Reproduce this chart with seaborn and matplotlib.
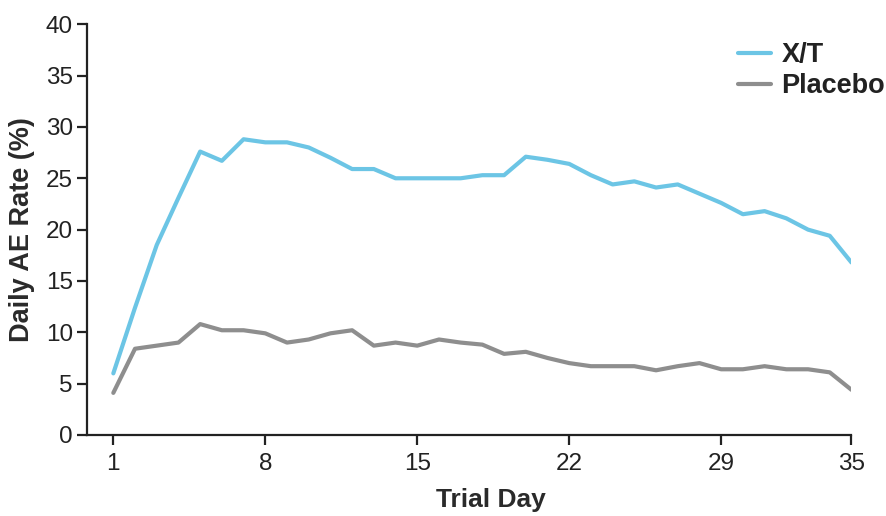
import numpy as np
import pandas as pd
import matplotlib
matplotlib.use("Agg")
import matplotlib.pyplot as plt
import seaborn as sns

# ------------------------------------
# Data
# ------------------------------------
days = list(range(1, 36))

xt_rate = [6.0, 12.4, 18.5, 23.1, 27.6, 26.7, 28.8, 28.5, 28.5, 28.0,
           27.0, 25.9, 25.9, 25.0, 25.0, 25.0, 25.0, 25.3, 25.3, 27.1,
           26.8, 26.4, 25.3, 24.4, 24.7, 24.1, 24.4, 23.5, 22.6, 21.5,
           21.8, 21.1, 20.0, 19.4, 16.8]

placebo_rate = [4.1, 8.4, 8.7, 9.0, 10.8, 10.2, 10.2, 9.9, 9.0, 9.3,
                9.9, 10.2, 8.7, 9.0, 8.7, 9.3, 9.0, 8.8, 7.9, 8.1,
                7.5, 7.0, 6.7, 6.7, 6.7, 6.3, 6.7, 7.0, 6.4, 6.4,
                6.7, 6.4, 6.4, 6.1, 4.4]

groups = ["X/T", "Placebo"]
group_colors = {"X/T": "#6cc5e5", "Placebo": "#8e8e8e"}

x_ticks = [1, 8, 15, 22, 29, 35]
y_ticks = [0, 5, 10, 15, 20, 25, 30, 35, 40]

df = pd.DataFrame({
    "Trial Day": days * 2,
    "Rate": xt_rate + placebo_rate,
    "Group": [groups[0]] * len(days) + [groups[1]] * len(days),
})

# ------------------------------------
# Plot
# ------------------------------------
sns.set_style("white")
plt.rcParams["font.family"] = ["Liberation Sans", "DejaVu Sans"]

fig = plt.figure(figsize=(8.86, 5.16), dpi=100)
ax = fig.add_axes([0.098, 0.157, 0.863, 0.796])

sns.lineplot(
    data=df,
    x="Trial Day",
    y="Rate",
    hue="Group",
    hue_order=groups,
    palette=group_colors,
    linewidth=3,
    ax=ax
)

ax.set_xlim(-0.22, 35)
ax.set_ylim(0, 40)
ax.set_xticks(x_ticks)
ax.set_yticks(y_ticks)

for side in ["top", "right"]:
    ax.spines[side].set_visible(False)
for side in ["left", "bottom"]:
    ax.spines[side].set_color("#222222")
    ax.spines[side].set_linewidth(1.6)

ax.tick_params(axis="both", direction="out", length=7, width=1.6,
               color="#222222", labelsize=17.5, labelcolor="#222222",
               bottom=True, left=True)
ax.tick_params(axis="x", pad=6)
ax.tick_params(axis="y", pad=3)

ax.set_xlabel("Trial Day", fontsize=19, fontweight="bold",
              color="#2a2a2a", labelpad=11)
ax.xaxis.set_label_coords(0.529, -0.13)
ax.set_ylabel("Daily AE Rate (%)", fontsize=19.5, fontweight="bold",
              color="#2a2a2a", labelpad=8)

leg = ax.legend(
    loc="upper left",
    bbox_to_anchor=(738 / 886, 1 - 42 / 516),
    bbox_transform=fig.transFigure,
    frameon=False,
    borderpad=0,
    borderaxespad=0,
    handlelength=1.2,
    handletextpad=0.4,
    labelspacing=0.2,
    prop={"size": 19.5, "weight": "bold"}
)
for text in leg.get_texts():
    text.set_color("#222222")

plt.savefig("out.png", dpi=100)
plt.close()
